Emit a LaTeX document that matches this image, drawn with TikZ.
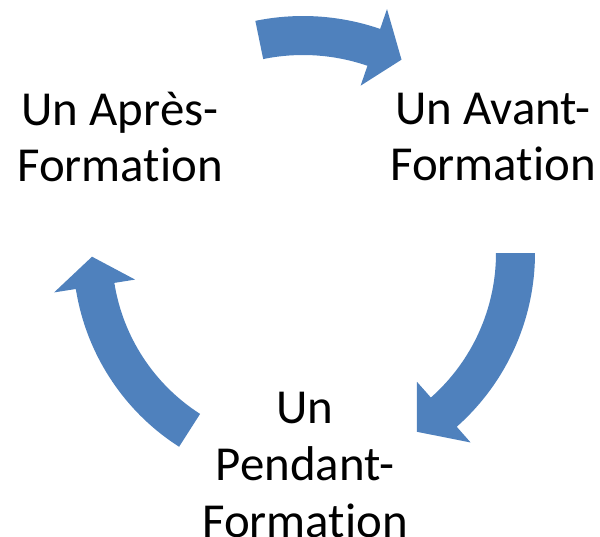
\documentclass[tikz,border=0pt]{standalone}
\usepackage{fontspec}
\setmainfont{Carlito}[Ligatures=NoCommon]
\definecolor{cycleblue}{RGB}{79,129,189}

\begin{document}
\begin{tikzpicture}[
  every node/.style={align=center, inner sep=0pt, font=\fontsize{13.9}{16.2}\selectfont},
  bendarrow/.style={fill=cycleblue, draw=none}
]
% ---- page frame (600 x 536 px, 1 px = 0.01 cm, hub at origin) ----
\useasboundingbox (-3.03,-2.83) rectangle (2.97,2.53);
\coordinate (hub) at (0,0);

% ---- stage labels ----
\node (apres)   at (-1.83,1.16) {Un Après-\\Formation};
\node (avant)   at (1.90,1.16)  {Un Avant-\\Formation};
\node (pendant) at (0.02,-2.12) {Un\\Pendant-\\Formation};

% ---- curved block arrows (inner r 1.93, outer r 2.32) ----
% top: apres -> avant
\fill[bendarrow] (101.6:1.98) arc[start angle=101.6, end angle=71, radius=1.98]
  -- (71:1.77) -- (63:2.17) -- (71:2.58) -- (71:2.37)
  arc[start angle=71, end angle=101.6, radius=2.37] -- cycle;
% right: avant -> pendant
\fill[bendarrow] (0:1.93) arc[start angle=0, end angle=-48.5, radius=1.93]
  -- (-48.5:1.72) -- (-57.5:2.12) -- (-48.5:2.53) -- (-48.5:2.32)
  arc[start angle=-48.5, end angle=0, radius=2.32] -- cycle;
% left: pendant -> apres
\fill[bendarrow] (237.4:1.91) arc[start angle=237.4, end angle=189, radius=1.91]
  -- (189:1.70) -- (181:2.11) -- (189:2.52) -- (189:2.30)
  arc[start angle=189, end angle=237.4, radius=2.30] -- cycle;
\end{tikzpicture}
\end{document}
